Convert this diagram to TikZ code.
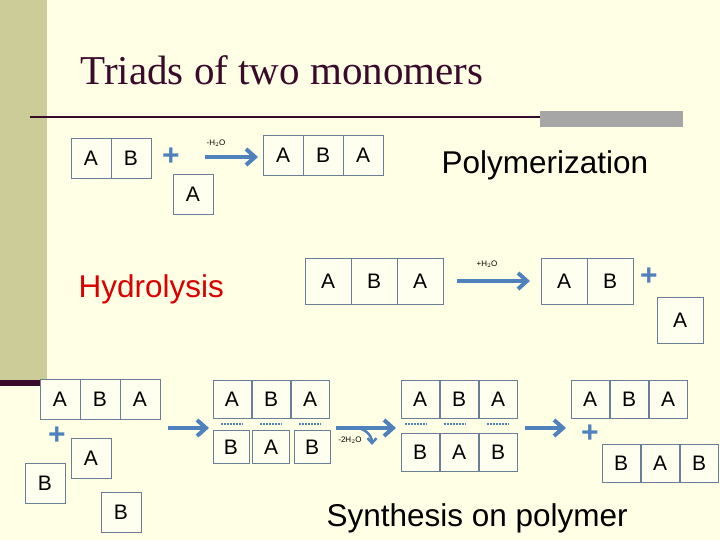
\documentclass[tikz,border=0pt]{standalone}
\usepackage{fontspec}
\setmainfont{Liberation Serif}
\newfontfamily\arial{Liberation Sans}
\usetikzlibrary{arrows.meta}
\definecolor{cream}{HTML}{FFFFE6}
\definecolor{olive}{HTML}{CCCC99}
\definecolor{plum}{HTML}{3A0A2A}
\definecolor{arrowblue}{HTML}{4F81BD}
\definecolor{boxline}{HTML}{6A7F95}
\begin{document}
\begin{tikzpicture}[x=1pt,y=-1pt]
    \tikzstyle{cell}=[draw=boxline,fill=white!40!cream,inner sep=0pt,font=\arial\fontsize{21}{21}\selectfont]
    \tikzstyle{cellA}=[cell,minimum width=40pt,minimum height=40pt]
    \tikzstyle{cellB}=[cell,minimum width=46pt,minimum height=46pt]
    \tikzstyle{cellC}=[cell,minimum width=38pt,minimum height=38pt]
    \tikzstyle{react}=[line width=4pt,arrowblue,-{Straight Barb[length=9pt,width=16pt]}]
    \tikzstyle{plus}=[text=arrowblue,font=\arial\bfseries\fontsize{30}{30}\selectfont]
    \tikzstyle{water}=[font=\arial\fontsize{8}{8}\selectfont]
    \tikzstyle{bond}=[arrowblue,line width=2.5pt,dash pattern=on 2pt off 1pt]
    \tikzstyle{caption}=[anchor=west,font=\arial\fontsize{31.5}{31.5}\selectfont]
    % background and frame
    \fill[cream] (0,0) rectangle (720,540);
    \fill[olive] (0,0) rectangle (47,380);
    \fill[plum] (0,380) rectangle (47,386);
    \draw[plum,line width=2pt] (30,117) -- (540,117);
    \fill[gray!70] (540,111) rectangle (683,127);
    \node[anchor=west,text=plum,font=\fontsize{41}{41}\selectfont] (title) at (77,70) {Triads of two monomers};
    % condensation
    \node[cellA] (a1) at (91,158) {A};
    \node[cellA] (b1) at (131,158) {B};
    \node[plus] (p1) at (171,157) {+};
    \node[cellA] (a2) at (193,194) {A};
    \coordinate (s1) at (205,157);
    \coordinate (e1) at (258,157);
    \draw[react] (s1) -- (e1);
    \node[water] (w1) at (216,143) {-H$_2$O};
    \node[cellA] (a3) at (283,155) {A};
    \node[cellA] (b3) at (323,155) {B};
    \node[cellA] (c3) at (363,155) {A};
    \node[caption] (poly) at (438,165) {Polymerization};
    % hydrolysis
    \node[caption,text=red!85!black] (hydro) at (75,289) {Hydrolysis};
    \node[cellB] (a4) at (328,281) {A};
    \node[cellB] (b4) at (374,281) {B};
    \node[cellB] (c4) at (420,281) {A};
    \coordinate (s2) at (457,281);
    \coordinate (e2) at (530,281);
    \draw[react] (s2) -- (e2);
    \node[water] (w2) at (487,264) {+H$_2$O};
    \node[cellB] (a5) at (564,281) {A};
    \node[cellB] (b5) at (610,281) {B};
    \node[plus] (p2) at (649,277) {+};
    \node[cellB] (a6) at (680,320) {A};
    % synthesis on polymer
    \node[cellA] (a7) at (60,399) {A};
    \node[cellA] (b7) at (100,399) {B};
    \node[cellA] (c7) at (140,399) {A};
    \node[plus] (p3) at (57,436) {+};
    \node[cellA] (a8) at (91,458) {A};
    \node[cellA] (b8) at (45,483) {B};
    \node[cellA] (b9) at (121,512) {B};
    \coordinate (s3) at (168,428);
    \coordinate (e3) at (209,428);
    \draw[react] (s3) -- (e3);
    \node[cellC] (a10) at (232,399) {A};
    \node[cellC] (b10) at (271,399) {B};
    \node[cellC] (c10) at (310,399) {A};
    \draw[bond] (221,424) -- (243,424) (260,424) -- (282,424) (299,424) -- (321,424);
    \node[cell,minimum width=36pt,minimum height=33pt] (b11) at (231,447) {B};
    \node[cell,minimum width=37pt,minimum height=33pt] (a11) at (271,447) {A};
    \node[cell,minimum width=36pt,minimum height=33pt] (c11) at (312,447) {B};
    \coordinate (s4) at (336,428);
    \coordinate (e4) at (396,428);
    \coordinate (e5) at (372,445);
    \draw[react] (s4) -- (e4);
    \draw[line width=2.5pt,arrowblue,-{Straight Barb[length=5pt,width=9pt]}] (s4) ++(20,0) to[out=0,in=90] (e5);
    \node[water] (w3) at (350,440) {-2H$_2$O};
    \node[cellC] (a12) at (420,399) {A};
    \node[cellC] (b12) at (459,399) {B};
    \node[cellC] (c12) at (498,399) {A};
    \draw[bond] (405,424) -- (427,424) (444,424) -- (466,424) (487,424) -- (509,424);
    \node[cellC] (b13) at (420,452) {B};
    \node[cellC] (a13) at (459,452) {A};
    \node[cellC] (c13) at (498,452) {B};
    \coordinate (s6) at (525,428);
    \coordinate (e6) at (566,428);
    \draw[react] (s6) -- (e6);
    \node[cellC] (a14) at (590,399) {A};
    \node[cellC] (b14) at (629,399) {B};
    \node[cellC] (c14) at (668,399) {A};
    \node[plus] (p4) at (590,434) {+};
    \node[cellC] (b15) at (621,463) {B};
    \node[cellC] (a15) at (660,463) {A};
    \node[cellC] (c15) at (699,463) {B};
    \node[caption] (synth) at (323,518) {Synthesis on polymer};
\end{tikzpicture}
\end{document}
